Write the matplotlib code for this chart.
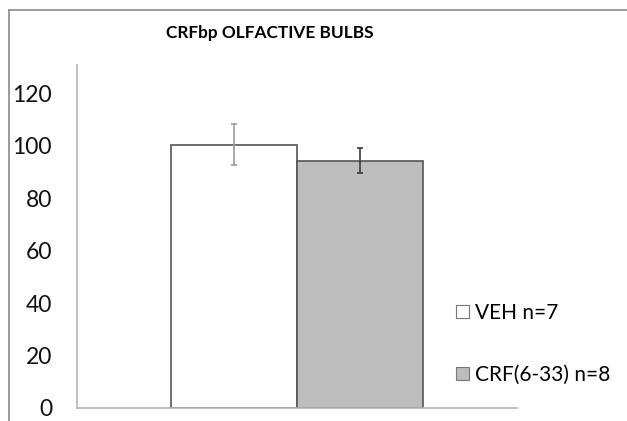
import matplotlib.pyplot as plt
from matplotlib.lines import Line2D
from matplotlib.patches import Patch

plt.rcParams['font.family'] = ['Lato', 'DejaVu Sans']

groups = ['VEH n=7', 'CRF(6-33) n=8']
means = [100.4, 94.3]
errors = [7.8, 4.9]
colors = ['white', '#bdbdbd']
err_colors = ['#9a9a9a', '#3a3a3a']
yticks = [0, 20, 40, 60, 80, 100, 120]

fig = plt.figure(figsize=(6.27, 4.21), dpi=100)
ax = fig.add_axes([77 / 627, 13 / 421, 440 / 627, 343 / 421])

width = 1 / 1.75 / 2
xs = [-width / 2, width / 2]
for x, m, e, c, ec in zip(xs, means, errors, colors, err_colors):
    ax.bar(x, m, width=width, color=c, edgecolor='#555555', linewidth=1.2)
    ax.errorbar(x, m, yerr=e, ecolor=ec, elinewidth=1.2, capsize=2.2, capthick=1.2, fmt='none')

ax.set_xlim(-0.5, 0.5)
ax.set_ylim(0, 130.7)
ax.set_xticks([])
ax.set_yticks(yticks)
ax.tick_params(axis='y', length=0, pad=18, labelsize=16.5, labelcolor='#111111')
for side in ['top', 'right']:
    ax.spines[side].set_visible(False)
for side in ['left', 'bottom']:
    ax.spines[side].set_color('#b5b5b5')
    ax.spines[side].set_linewidth(1.2)

fig.text(270 / 627, 1 - 33 / 421, 'CRFbp OLFACTIVE BULBS', ha='center', va='center',
         fontsize=12.4, fontweight='bold')

handles = [Patch(facecolor=c, edgecolor='#777777', linewidth=0.8) for c in colors]
leg = fig.legend(handles, groups, loc='center left', bbox_to_anchor=(446 / 627, 1 - 344 / 421),
                 frameon=False, fontsize=15, handlelength=0.6, handleheight=0.6,
                 handletextpad=0.3, labelspacing=2.0, borderpad=0)

# outer chart frame
fig.add_artist(Line2D([9 / 627, 1], [1 - 10 / 421, 1 - 10 / 421], color='#8a8a8a', lw=1.2))
fig.add_artist(Line2D([9 / 627, 9 / 627], [0, 1 - 10 / 421], color='#8a8a8a', lw=1.2))

fig.savefig('out.png', dpi=100)
